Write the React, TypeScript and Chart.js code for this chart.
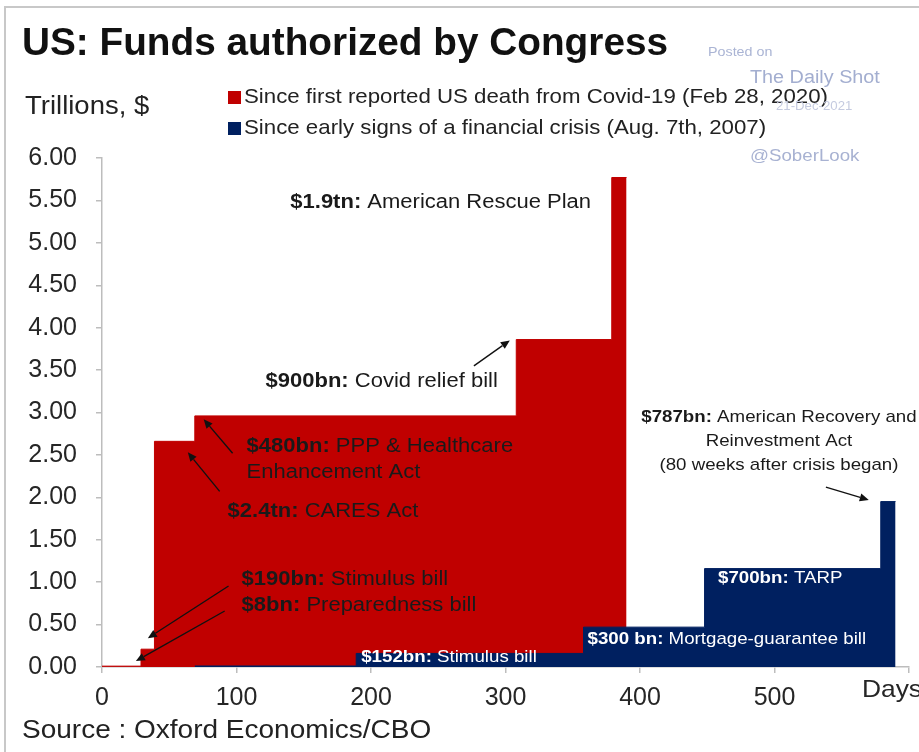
import React, { useEffect, useRef } from 'react';
import { Chart, registerables } from 'chart.js';

Chart.register(...registerables);

const TITLE = 'US: Funds authorized by Congress';
const UNIT_LABEL = 'Trillions, $';
const SOURCE_LABEL = 'Source : Oxford Economics/CBO';
const X_UNIT_LABEL = 'Days';
const SERIES_LABELS = [
  'Since first reported US death from Covid-19 (Feb 28, 2020)',
  'Since early signs of a financial crisis (Aug. 7th, 2007)',
];
const SERIES_COLORS = ['#c00000', '#002060'];

// Cumulative funds (trillions $) by days since the start of each crisis
const covidDays = [0, 29, 39, 69, 308, 379, 390];
const covidFunds = [0.01, 0.21, 2.66, 2.96, 3.86, 5.77, 5.77];
const crisisDays = [69, 189, 358, 448, 579, 590];
const crisisFunds = [0.012, 0.16, 0.47, 1.16, 1.95, 1.95];

const X_MIN = 0;
const X_MAX = 600;
const X_STEP = 100;
const Y_MIN = 0;
const Y_MAX = 6;
const Y_STEP = 0.5;

const WATERMARK = ['Posted on', 'The Daily Shot', '21-Dec-2021', '@SoberLook'];

// Annotation texts: [bold part, regular part]
const NOTE_TEXTS: [string, string][][] = [
  [['$1.9tn:', ' American Rescue Plan']],
  [['$900bn:', ' Covid relief bill']],
  [['$480bn:', ' PPP & Healthcare'], ['', 'Enhancement Act']],
  [['$2.4tn:', ' CARES Act']],
  [['$190bn:', ' Stimulus bill']],
  [['$8bn:', ' Preparedness bill']],
  [['$787bn:', ' American Recovery and'], ['', 'Reinvestment Act'], ['', '(80 weeks after crisis began)']],
  [['$700bn:', ' TARP']],
  [['$300 bn:', ' Mortgage-guarantee bill']],
  [['$152bn:', ' Stimulus bill']],
];

// Anchor (day, trillions) for each annotation, alignment and colour
const NOTE_LAYOUT = [
  { day: 140, val: 5.48, align: 'left', color: '#1a1a1a', size: 20, gap: 0 },
  { day: 121.6, val: 3.36, align: 'left', color: '#1a1a1a', size: 20, gap: 0 },
  { day: 107.5, val: 2.6, align: 'left', color: '#1a1a1a', size: 20, gap: 0.31 },
  { day: 93.4, val: 1.83, align: 'left', color: '#1a1a1a', size: 20, gap: 0 },
  { day: 103.8, val: 1.03, align: 'left', color: '#1a1a1a', size: 20, gap: 0 },
  { day: 103.8, val: 0.72, align: 'left', color: '#1a1a1a', size: 20, gap: 0 },
  { day: 503.3, val: 2.94, align: 'center', color: '#1a1a1a', size: 17, gap: 0.28 },
  { day: 458, val: 1.05, align: 'left', color: '#ffffff', size: 17, gap: 0 },
  { day: 361, val: 0.33, align: 'left', color: '#ffffff', size: 17, gap: 0 },
  { day: 192.7, val: 0.12, align: 'left', color: '#ffffff', size: 17, gap: 0 },
];

// Arrows: [fromDay, fromVal, toDay, toVal]
const ARROWS = [
  [276.5, 3.55, 303.2, 3.85],
  [97.1, 2.52, 75.6, 2.92],
  [87.5, 2.07, 63.8, 2.53],
  [94.1, 0.955, 34.1, 0.34],
  [91.2, 0.66, 25.2, 0.07],
  [538.2, 2.12, 570.1, 1.97],
];

const FONT = '"Liberation Sans", Arial, Helvetica, sans-serif';
const SX = 1.1;

function drawRich(
  ctx: CanvasRenderingContext2D,
  parts: [string, boolean][],
  x: number,
  y: number,
  size: number,
  color: string,
  align: string = 'left',
  sx: number = SX
) {
  ctx.save();
  ctx.textBaseline = 'middle';
  ctx.textAlign = 'left';
  const fonts = parts.map(([, b]) => `${b ? 'bold ' : ''}${size}px ${FONT}`);
  let w = 0;
  parts.forEach(([t], i) => {
    ctx.font = fonts[i];
    w += ctx.measureText(t).width;
  });
  const start = align === 'center' ? x - (w * sx) / 2 : align === 'right' ? x - w * sx : x;
  ctx.translate(start, y);
  ctx.scale(sx, 1);
  ctx.fillStyle = color;
  let cx = 0;
  parts.forEach(([t], i) => {
    ctx.font = fonts[i];
    ctx.fillText(t, cx, 0);
    cx += ctx.measureText(t).width;
  });
  ctx.restore();
}

function drawArrow(ctx: CanvasRenderingContext2D, x1: number, y1: number, x2: number, y2: number) {
  const a = Math.atan2(y2 - y1, x2 - x1);
  const c = Math.cos(a);
  const s = Math.sin(a);
  const head = 9;
  const hw = 4;
  ctx.save();
  ctx.strokeStyle = '#111';
  ctx.fillStyle = '#111';
  ctx.lineWidth = 1.4;
  ctx.beginPath();
  ctx.moveTo(x1, y1);
  ctx.lineTo(x2 - head * c, y2 - head * s);
  ctx.stroke();
  ctx.beginPath();
  ctx.moveTo(x2, y2);
  ctx.lineTo(x2 - head * c + hw * s, y2 - head * s - hw * c);
  ctx.lineTo(x2 - head * c - hw * s, y2 - head * s + hw * c);
  ctx.closePath();
  ctx.fill();
  ctx.restore();
}

const decorPlugin = {
  id: 'decor',
  beforeDraw(chart: any) {
    const ctx: CanvasRenderingContext2D = chart.ctx;
    ctx.save();
    ctx.fillStyle = '#ffffff';
    ctx.fillRect(0, 0, chart.width, chart.height);
    ctx.strokeStyle = '#c8c8c8';
    ctx.lineWidth = 2;
    ctx.beginPath();
    ctx.moveTo(5, chart.height);
    ctx.lineTo(5, 7);
    ctx.lineTo(chart.width, 7);
    ctx.stroke();
    ctx.restore();
  },
  afterDatasetsDraw(chart: any) {
    const ctx: CanvasRenderingContext2D = chart.ctx;
    const xs = chart.scales.x;
    const ys = chart.scales.y;
    NOTE_TEXTS.forEach((lines, i) => {
      const L = NOTE_LAYOUT[i];
      lines.forEach(([b, r], j) => {
        const px = xs.getPixelForValue(L.day);
        const py = ys.getPixelForValue(L.val - j * L.gap);
        const parts: [string, boolean][] = [];
        if (b) parts.push([b, true]);
        parts.push([r, false]);
        drawRich(ctx, parts, px, py, L.size, L.color, L.align);
      });
    });
    ARROWS.forEach(([d1, v1, d2, v2]) => {
      drawArrow(ctx, xs.getPixelForValue(d1), ys.getPixelForValue(v1), xs.getPixelForValue(d2), ys.getPixelForValue(v2));
    });
  },
  afterDraw(chart: any) {
    const ctx: CanvasRenderingContext2D = chart.ctx;
    drawRich(ctx, [[TITLE, true]], 22, 45, 38, '#111111', 'left', 1.02);
    drawRich(ctx, [[UNIT_LABEL, false]], 25, 107, 25, '#222222', 'left', 1.1);
    // legend
    SERIES_LABELS.forEach((label, i) => {
      const y = 97 + i * 31;
      ctx.fillStyle = SERIES_COLORS[i];
      ctx.fillRect(228, y - 6, 13, 13);
      drawRich(ctx, [[label, false]], 244, y, 21, '#222222', 'left', 1.06);
    });
    drawRich(ctx, [[SOURCE_LABEL, false]], 22, 731, 25, '#222222', 'left', 1.12);
    drawRich(ctx, [[X_UNIT_LABEL, false]], 892, 690, 24, '#262626', 'center');
    // watermark
    drawRich(ctx, [[WATERMARK[0], false]], 708, 52, 13, '#aab4d4');
    drawRich(ctx, [[WATERMARK[1], false]], 750, 78, 18, '#a3aed0');
    drawRich(ctx, [[WATERMARK[2], false]], 776, 107, 12, '#c5cbe0');
    drawRich(ctx, [[WATERMARK[3], false]], 750, 156, 17, '#a8b2d2');
  },
};

export default function App() {
  const ref = useRef<HTMLCanvasElement | null>(null);

  useEffect(() => {
    if (!ref.current) return;
    const axisColor = '#bdbdbd';
    const chart = new Chart(ref.current, {
      type: 'line',
      data: {
        datasets: [
          {
            label: SERIES_LABELS[0],
            data: covidDays.map((d, i) => ({ x: d, y: covidFunds[i] })),
            stepped: true,
            fill: 'origin',
            backgroundColor: SERIES_COLORS[0],
            borderColor: SERIES_COLORS[0],
            borderWidth: 1,
            pointRadius: 0,
            order: 2,
          },
          {
            label: SERIES_LABELS[1],
            data: crisisDays.map((d, i) => ({ x: d, y: crisisFunds[i] })),
            stepped: true,
            fill: 'origin',
            backgroundColor: SERIES_COLORS[1],
            borderColor: SERIES_COLORS[1],
            borderWidth: 1,
            pointRadius: 0,
            order: 1,
          },
        ],
      },
      options: {
        responsive: false,
        maintainAspectRatio: false,
        animation: false,
        devicePixelRatio: 1,
        layout: { padding: { left: 12, right: 8, top: 158, bottom: 40 } },
        plugins: {
          legend: { display: false },
          tooltip: { enabled: false },
          title: { display: false },
        },
        scales: {
          x: {
            type: 'linear',
            min: X_MIN,
            max: X_MAX,
            border: { color: axisColor, width: 1.5 },
            grid: { drawOnChartArea: false, tickLength: 6, color: axisColor, lineWidth: 1.5 },
            ticks: {
              stepSize: X_STEP,
              maxRotation: 0,
              padding: 10,
              color: '#262626',
              font: { family: FONT, size: 25 },
              callback: (v: any) => (Number(v) >= X_MAX ? '' : String(v)),
            },
            afterFit: (scale: any) => {
              scale.height = 45;
            },
          },
          y: {
            min: Y_MIN,
            max: Y_MAX,
            border: { color: axisColor, width: 1.5 },
            grid: { drawOnChartArea: false, tickLength: 6, color: axisColor, lineWidth: 1.5 },
            ticks: {
              stepSize: Y_STEP,
              padding: 19,
              color: '#262626',
              font: { family: FONT, size: 25 },
              callback: (v: any) => Number(v).toFixed(2),
            },
            afterFit: (scale: any) => {
              scale.width = 90;
            },
          },
        },
      },
      plugins: [decorPlugin],
    });
    return () => chart.destroy();
  }, []);

  return (
    <div style={{ position: 'absolute', left: 0, top: 0, width: 919, height: 752 }}>
      <canvas ref={ref} width={919} height={752} style={{ width: 919, height: 752, display: 'block' }} />
    </div>
  );
}
